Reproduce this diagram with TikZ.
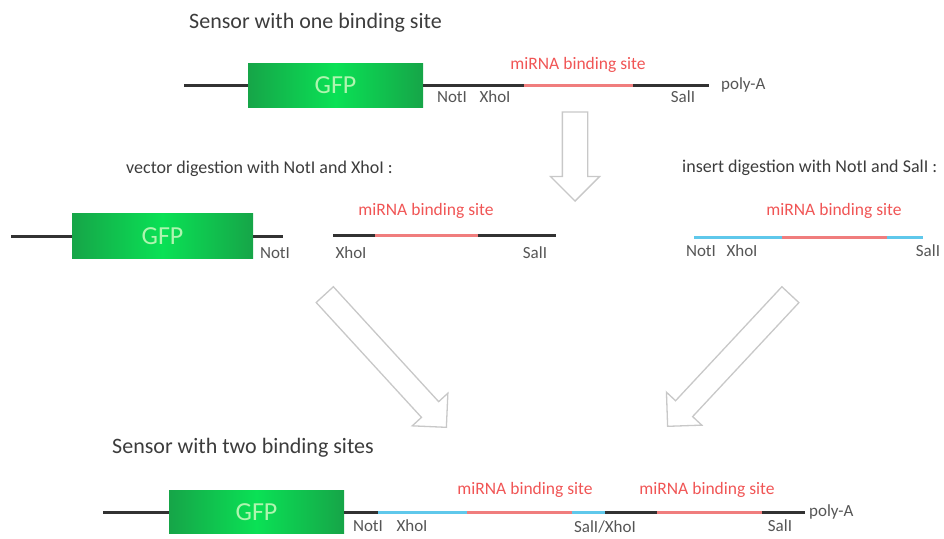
\documentclass[tikz,border=0pt]{standalone}
\usepackage{fontspec}
\setmainfont{Carlito}
\usepackage{tikz}
\usetikzlibrary{positioning,shapes}
\definecolor{dnablack}{RGB}{50,50,50}
\definecolor{mirred}{RGB}{240,125,125}
\definecolor{insblue}{RGB}{95,200,235}
\definecolor{mirtext}{RGB}{240,85,85}
\definecolor{enzgray}{RGB}{85,85,85}
\definecolor{headgray}{RGB}{60,60,60}
\definecolor{gfpdark}{RGB}{22,165,72}
\definecolor{gfplight}{RGB}{10,225,85}
\definecolor{gfptext}{RGB}{175,245,175}
\definecolor{arrowgray}{RGB}{200,200,200}
\tikzstyle{gene}     = [rectangle, minimum width=175pt, minimum height=44pt,
                        left color=gfpdark, right color=gfpdark, middle color=gfplight,
                        text=gfptext, font=\fontsize{26}{28}\selectfont]
\tikzstyle{bigarrow} = [single arrow, draw=arrowgray, line width=1.3pt, fill=white,
                        single arrow head extend=12.5pt, inner sep=11pt]
\tikzstyle{dna}      = [line width=3pt, dnablack]
\tikzstyle{mir}      = [line width=3pt, mirred]
\tikzstyle{ins}      = [line width=3pt, insblue]
\tikzstyle{enzyme}   = [text=enzgray, inner sep=0pt, font=\fontsize{17}{19}\selectfont]
\tikzstyle{sitetext} = [text=mirtext, inner sep=0pt, font=\fontsize{17.5}{19}\selectfont]

\begin{document}
\begin{tikzpicture}[x=1pt, y=-1pt,
            headline/.style={text=headgray, inner sep=0pt, font=\fontsize{22}{24}\selectfont},
            subline/.style={text=headgray, inner sep=0pt, font=\fontsize{18}{20}\selectfont}]
        \useasboundingbox (0,0) rectangle (944,538);

        % sensor with one site
        \node[headline, anchor=west] (titleone) at (189,23) {Sensor with one binding site};
        \coordinate (a0) at (184,85);
        \node[gene] (gfpone) at (335.5,85) {GFP};
        \coordinate (a1) at (524,85);
        \coordinate (a2) at (633,85);
        \coordinate (a3) at (709,85);
        \draw[dna] (a0) -- (gfpone.west);
        \draw[dna] (gfpone.east) -- (a1);
        \draw[mir] (a1) -- (a2);
        \draw[dna] (a2) -- (a3);
        \node[enzyme, anchor=west] (polyone) at (721,85) {poly-A};
        \node[sitetext] (siteone) at (578,65) {miRNA binding site};
        \node[enzyme] (notone) at (452,97) {NotI};
        \node[enzyme] (xhoone) at (495,97) {XhoI};
        \node[enzyme] (salone) at (683,97) {SalI};

        \node[bigarrow, minimum height=89pt, inner sep=12pt, single arrow head extend=12pt,
              rotate=-90, anchor=tip] (arrdown) at (575,202) {};

        % vector
        \node[subline, anchor=east] (vectxt) at (393,169) {vector digestion with NotI and XhoI :};
        \coordinate (b0) at (11,236);
        \node[gene, minimum width=181pt, minimum height=45pt] (gfpvec) at (162.5,236) {GFP};
        \coordinate (b1) at (283,236);
        \draw[dna] (b0) -- (gfpvec.west);
        \draw[dna] (gfpvec.east) -- (b1);
        \node[enzyme] (notvec) at (275,253) {NotI};

        \coordinate (c0) at (333,235);
        \coordinate (c1) at (375,235);
        \coordinate (c2) at (478,235);
        \coordinate (c3) at (556,235);
        \draw[dna] (c0) -- (c1);
        \draw[mir] (c1) -- (c2);
        \draw[dna] (c2) -- (c3);
        \node[sitetext] (sitevec) at (426,211) {miRNA binding site};
        \node[enzyme] (xhovec) at (351,253) {XhoI};
        \node[enzyme] (salvec) at (535,253) {SalI};

        % insert
        \node[subline, anchor=west] (instxt) at (682,168) {insert digestion with NotI and SalI :};
        \coordinate (d0) at (694,237);
        \coordinate (d1) at (782,237);
        \coordinate (d2) at (887,237);
        \coordinate (d3) at (923,237);
        \draw[ins] (d0) -- (d1);
        \draw[mir] (d1) -- (d2);
        \draw[ins] (d2) -- (d3);
        \node[sitetext] (siteins) at (834,211) {miRNA binding site};
        \node[enzyme] (notins) at (701,251) {NotI};
        \node[enzyme] (xhoins) at (742,251) {XhoI};
        \node[enzyme] (salins) at (928,251) {SalI};

        \node[bigarrow, minimum height=180pt, rotate=-47.5, anchor=tip] (arrvec) at (447,428) {};
        \node[bigarrow, minimum height=180pt, rotate=-133, anchor=tip] (arrins) at (667,427) {};

        % sensor with two sites
        \node[headline, anchor=west] (titletwo) at (112,448) {Sensor with two binding sites};
        \coordinate (e0) at (103,512);
        \node[gene, minimum height=43pt] (gfptwo) at (256.5,512) {GFP};
        \coordinate (e1) at (378,512);
        \coordinate (e2) at (467,512);
        \coordinate (e3) at (572,512);
        \coordinate (e4) at (605,512);
        \coordinate (e5) at (657,512);
        \coordinate (e6) at (762,512);
        \coordinate (e7) at (805,512);
        \draw[dna] (e0) -- (gfptwo.west);
        \draw[dna] (gfptwo.east) -- (e1);
        \draw[ins] (e1) -- (e2);
        \draw[mir] (e2) -- (e3);
        \draw[ins] (e3) -- (e4);
        \draw[dna] (e4) -- (e5);
        \draw[mir] (e5) -- (e6);
        \draw[dna] (e6) -- (e7);
        \node[enzyme, anchor=west] (polytwo) at (809,512) {poly-A};
        \node[sitetext] (sitetwoa) at (525,490) {miRNA binding site};
        \node[sitetext] (sitetwob) at (707,490) {miRNA binding site};
        \node[enzyme] (nottwo) at (368,526) {NotI};
        \node[enzyme] (xhotwo) at (412,526) {XhoI};
        \node[enzyme] (saltwo) at (605,527) {SalI/XhoI};
        \node[enzyme] (salend) at (780,526) {SalI};
    \end{tikzpicture}
\end{document}
